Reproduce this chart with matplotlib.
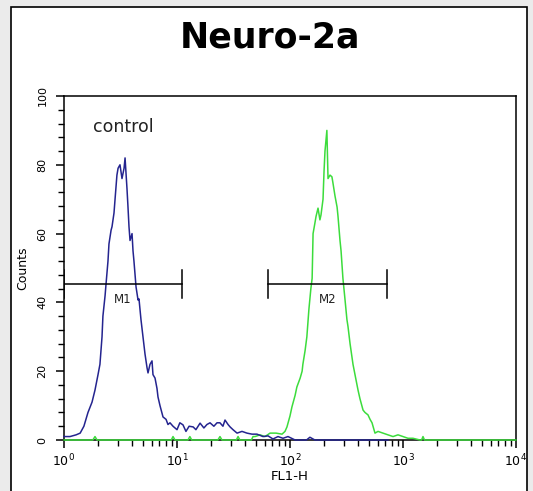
import matplotlib
matplotlib.use("Agg")
import matplotlib.pyplot as plt
import matplotlib.patches as patches
from matplotlib.ticker import FixedLocator, NullFormatter

# control histogram (blue), FL1-H value vs counts
blue_fl1 = [1.00, 1.13, 1.28, 1.39, 1.50, 1.63, 1.77, 1.88, 2.00, 2.08, 2.17, 2.21,
            2.31, 2.35, 2.45, 2.50, 2.61, 2.66, 2.77, 2.83, 2.94, 3.01, 3.13, 3.26,
            3.40, 3.47, 3.61, 3.68, 3.76, 3.84, 4.00, 4.08, 4.16, 4.34, 4.52, 4.61,
            4.80, 5.00, 5.21, 5.43, 5.54, 5.77, 6.01, 6.13, 6.39, 6.65, 6.79, 7.07,
            7.52, 8.00, 8.32, 8.67, 9.22, 9.60, 10.0, 10.6, 11.3, 12.0, 12.8, 13.9,
            14.7, 16.0, 17.3, 18.4, 19.6, 21.2, 22.6, 24.0, 25.5, 26.6, 28.3, 29.5,
            31.3, 34.0, 37.6, 41.6, 46.1, 51.0, 57.7, 63.9, 70.7, 78.3, 86.7, 96.0,
            111, 140, 150, 166, 736]
blue_counts = [1, 1, 1.5, 2, 4, 8, 11, 14.5, 19, 22, 30, 36,
               42, 45, 52, 57, 61, 62, 66, 70, 77, 79, 80, 76,
               79, 82, 73, 68, 62, 58, 60, 55, 52, 44.5, 40.7, 41,
               35, 30, 25, 21, 19.5, 22, 23, 19, 18, 15, 12.5, 10,
               6.7, 6, 4.5, 5, 4, 3.5, 3, 5, 4.4, 2.5, 4, 3.8,
               3, 4.9, 3.5, 4.5, 5, 4, 5, 5, 4, 5.8, 4.5, 3.8,
               3, 2, 2.5, 2, 1.7, 1.7, 1, 1.2, 0.3, 1, 0.5, 1,
               0, 0, 0.8, 0, 0]

# stained sample histogram (green)
green_fl1 = [1.00, 1.80, 1.88, 1.96, 8.9, 9.22, 9.6, 12.5, 13.0, 13.5, 23.0, 24.0,
             25.0, 33.5, 34.7, 36.0, 45.5, 47.1, 49.0, 54.3, 60.1, 66.6, 75.2, 85.0,
             90.3, 94.0, 100, 104, 111, 115, 123, 128, 130, 136, 141, 147,
             153, 157, 160, 166, 170, 177, 184, 188, 196, 200, 204, 212,
             217, 226, 235, 240, 250, 261, 266, 277, 283, 294, 307, 319,
             326, 340, 361, 376, 400, 416, 443, 461, 490, 511, 532, 565,
             601, 665, 736, 816, 903, 1000, 1107, 1225, 1413, 1460, 1503, 1550, 10000]
green_counts = [0, 0, 1, 0, 0, 1, 0, 0, 1, 0, 0, 1,
                0, 0, 1, 0, 0, 1, 1, 1.5, 1, 2, 2, 1.7,
                2.5, 3.8, 7, 9.6, 13, 15.4, 18, 20, 22, 26, 30, 38,
                44, 47, 60, 63, 65, 67.4, 64, 65.4, 70, 78, 84, 90,
                76, 77, 76.5, 74.7, 71, 67.7, 65, 58, 55, 47, 40.7, 35,
                33, 28, 22, 19, 14.5, 12, 8.7, 8, 7.3, 6, 5, 2,
                2.5, 2, 1.5, 1, 1.5, 1, 0.5, 0.5, 0, 0, 1, 0, 0]

# markers
m1_range = [1.0, 11.1]
m2_range = [63.9, 721]
marker_level = 45.3

fig = plt.figure(figsize=(5.33, 4.91), dpi=100)
fig.patch.set_facecolor('#ebebeb')
panel = patches.Rectangle((11 / 533, -0.05), 516 / 533, 1.05 - 7 / 491,
                          transform=fig.transFigure, facecolor='white',
                          edgecolor='black', linewidth=1.2, zorder=-5)
fig.patches.append(panel)

ax = fig.add_axes([64 / 533, 51 / 491, 452 / 533, 344 / 491])
ax.set_zorder(2)
ax.set_xscale('log')
ax.set_xlim(1, 1e4)
ax.set_ylim(0, 100)

ax.plot(green_fl1, green_counts, color='#3cdc3c', lw=1.1, zorder=3, clip_on=False)
ax.plot(blue_fl1, blue_counts, color='#24248f', lw=1.1, zorder=4, clip_on=False)

# marker bars
for rng, name in [(m1_range, 'M1'), (m2_range, 'M2')]:
    ax.plot(rng, [marker_level, marker_level], color='black', lw=1.1, zorder=5)
    for xv in rng:
        ax.plot([xv, xv], [41.3, 49.4], color='black', lw=1.1, zorder=5)
    mid = (rng[0] * rng[1]) ** 0.5
    ax.text(mid, 40.7, name, ha='center', va='center', fontsize=8.5, color='#222222')

ax.text(1.8, 91, 'control', fontsize=12.5, color='#222222', ha='left', va='center')

# ticks
ax.xaxis.set_major_locator(FixedLocator([1, 10, 100, 1000, 10000]))
minor_x = [m * 10 ** d for d in range(4) for m in range(2, 10)]
ax.xaxis.set_minor_locator(FixedLocator(minor_x))
ax.xaxis.set_minor_formatter(NullFormatter())
ax.set_xticklabels(['$10^{0}$', '$10^{1}$', '$10^{2}$', '$10^{3}$', '$10^{4}$'])
ax.set_yticks([0, 20, 40, 60, 80, 100])
ax.yaxis.set_minor_locator(FixedLocator(list(range(0, 101, 4))))
ax.tick_params(axis='both', which='major', direction='out', length=6, width=1.1,
               colors='black', labelsize=9)
ax.tick_params(axis='y', which='major', pad=6)
ax.tick_params(axis='both', which='minor', direction='out', length=4, width=1.0)
for lbl in ax.get_yticklabels():
    lbl.set_rotation(90)
    lbl.set_va('center')
    lbl.set_fontsize(8)

ax.set_xlabel('FL1-H', fontsize=9.5, labelpad=0)
ax.set_ylabel('Counts', fontsize=9, labelpad=6)
for s in ax.spines.values():
    s.set_linewidth(1.1)

fig.text(270 / 533, 1 - 37 / 491, 'Neuro-2a', fontsize=25, fontweight='bold',
         ha='center', va='center')

fig.savefig('out.png', dpi=100, facecolor=fig.get_facecolor())
